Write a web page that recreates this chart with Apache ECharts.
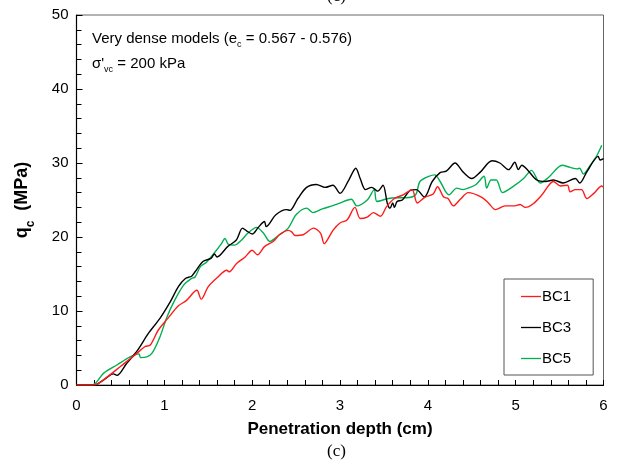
<!DOCTYPE html>
<html>
<head>
<meta charset="utf-8">
<script src="https://cdn.jsdelivr.net/npm/echarts@6/dist/echarts.min.js"></script>
<style>html,body{margin:0;padding:0;background:#fff;}#c{width:620px;height:475px;}</style>
</head>
<body>
<div id="c"></div>
<script>
// Data (depth in cm, qc in MPa)
var seriesNames = ['BC1', 'BC3', 'BC5'];
var seriesColors = ['#ff1a1a', '#000000', '#00b050'];
var xTicks = [0, 1, 2, 3, 4, 5, 6];
var yTicks = [0, 10, 20, 30, 40, 50];

var bc1 = [[0,0],[0.2,0],[0.35,1.1],[0.5,2.5],[0.67,4.1],[0.78,5.2],[0.84,5.4],[0.93,7.4],[1.04,9.0],[1.16,10.7],[1.25,11.4],[1.37,12.8],[1.42,11.6],[1.5,13.3],[1.61,14.6],[1.71,15.5],[1.74,15.3],[1.82,16.4],[1.92,17.3],[2.0,18.2],[2.06,17.6],[2.14,18.7],[2.24,19.4],[2.31,20.3],[2.41,20.9],[2.45,20.7],[2.49,20.2],[2.58,20.3],[2.7,21.2],[2.78,20.5],[2.82,19.1],[2.92,20.9],[3.0,21.9],[3.08,22.3],[3.17,24.0],[3.23,22.5],[3.31,22.7],[3.38,23.3],[3.46,22.8],[3.53,24.1],[3.62,25.2],[3.72,25.7],[3.82,26.4],[3.88,24.6],[3.97,25.4],[4.06,25.8],[4.11,26.8],[4.18,25.4],[4.23,25.2],[4.29,24.2],[4.37,25.1],[4.46,26.0],[4.61,25.4],[4.69,24.6],[4.77,23.7],[4.88,24.2],[4.99,24.2],[5.05,24.4],[5.11,24.0],[5.2,24.5],[5.3,25.7],[5.43,27.5],[5.51,26.9],[5.59,27.0],[5.62,26.1],[5.68,26.4],[5.75,26.4],[5.81,25.2],[5.89,25.9],[5.98,26.9],[6.0,26.7]];

var bc3 = [[0,0],[0.2,0],[0.31,0.7],[0.42,1.5],[0.46,1.3],[0.57,2.9],[0.69,4.6],[0.82,7.0],[0.95,9.0],[1.07,11.3],[1.16,13.3],[1.24,14.4],[1.31,14.7],[1.35,15.3],[1.44,16.7],[1.53,17.1],[1.57,17.7],[1.6,17.3],[1.72,18.7],[1.82,19.6],[1.89,21.2],[1.94,20.8],[2.0,20.4],[2.07,21.3],[2.14,22.1],[2.16,21.4],[2.27,23.0],[2.39,23.7],[2.43,23.6],[2.52,25.2],[2.62,26.7],[2.73,27.1],[2.83,26.7],[2.92,27.0],[3.0,25.9],[3.1,27.7],[3.18,29.3],[3.23,27.9],[3.29,26.4],[3.36,26.7],[3.43,26.2],[3.49,27.0],[3.54,24.5],[3.57,23.9],[3.6,24.6],[3.62,24.0],[3.65,24.8],[3.71,25.0],[3.8,26.3],[3.87,26.4],[3.96,25.4],[4.05,27.5],[4.14,28.7],[4.21,28.9],[4.31,30.0],[4.4,28.8],[4.5,27.9],[4.6,28.8],[4.73,30.3],[4.82,30.0],[4.92,29.1],[4.99,30.1],[5.03,29.1],[5.07,29.7],[5.14,29.0],[5.24,27.7],[5.34,27.5],[5.43,27.7],[5.54,27.3],[5.68,27.9],[5.73,27.3],[5.81,28.8],[5.94,30.9],[5.96,30.4],[6.0,30.6]];

var bc5 = [[0,0],[0.18,0],[0.31,1.6],[0.46,2.7],[0.61,3.8],[0.71,4.2],[0.73,3.7],[0.8,3.8],[0.86,4.3],[0.95,6.5],[1.03,9.2],[1.12,11.5],[1.22,13.5],[1.31,14.4],[1.35,14.6],[1.41,16.0],[1.48,16.6],[1.58,18.0],[1.65,19.1],[1.69,19.8],[1.73,19.0],[1.8,18.9],[1.88,19.6],[1.95,20.5],[2.05,21.3],[2.13,20.5],[2.2,19.4],[2.31,20.3],[2.41,21.2],[2.5,23.0],[2.62,23.9],[2.69,23.3],[2.8,23.8],[2.91,24.2],[2.98,24.5],[3.13,25.1],[3.19,24.2],[3.31,25.0],[3.39,26.4],[3.42,24.8],[3.55,25.2],[3.64,25.3],[3.75,25.3],[3.86,25.7],[3.91,27.5],[4.01,28.2],[4.08,28.4],[4.14,27.5],[4.24,25.7],[4.33,26.6],[4.4,26.4],[4.48,26.7],[4.55,27.1],[4.64,28.2],[4.67,26.6],[4.72,27.7],[4.78,27.7],[4.85,26.0],[4.98,26.9],[5.09,27.9],[5.18,29.0],[5.28,27.3],[5.37,28.0],[5.53,29.7],[5.62,29.4],[5.7,29.2],[5.73,29.3],[5.77,28.5],[5.85,29.7],[5.92,30.9],[5.98,32.4]];

var seriesData = [bc1, bc3, bc5];

var chart = echarts.init(document.getElementById('c'), null, {renderer: 'canvas'});
var FONT = 'Liberation Sans, Arial, sans-serif';

var series = seriesNames.map(function (n, i) {
  return {
    name: n, type: 'line', data: seriesData[i], symbol: 'none', showSymbol: false,
    smooth: 0.3, lineStyle: {color: seriesColors[i], width: 1.4}, itemStyle: {color: seriesColors[i]},
    z: 3 - i
  };
});

var subRich = {
  n: {fontFamily: FONT, fontSize: 15, fill: '#000', verticalAlign: 'top'},
  s: {fontFamily: FONT, fontSize: 9, fill: '#000', padding: [9, 0, 0, 0], verticalAlign: 'bottom'}
};

chart.setOption({
  animation: false,
  backgroundColor: '#fff',
  grid: {left: 76.5, right: 16.5, top: 15, bottom: 90, show: true, borderColor: '#666', borderWidth: 1},
  xAxis: {
    type: 'value', min: xTicks[0], max: xTicks[xTicks.length - 1], interval: 1,
    axisLine: {show: true, onZero: false, lineStyle: {color: '#000', width: 1.2}},
    axisTick: {show: true, inside: true, length: 5, lineStyle: {color: '#000'}},
    minorTick: {show: true, splitNumber: 5, length: 5, lineStyle: {color: '#000'}},
    splitLine: {show: false},
    axisLabel: {color: '#000', fontFamily: FONT, fontSize: 15, margin: 13},
    name: 'Penetration depth (cm)', nameLocation: 'middle', nameGap: 36,
    nameTextStyle: {color: '#000', fontFamily: FONT, fontSize: 17, fontWeight: 'bold'}
  },
  yAxis: {
    type: 'value', min: yTicks[0], max: yTicks[yTicks.length - 1], interval: 10,
    axisLine: {show: true, onZero: false, lineStyle: {color: '#000', width: 1.2}},
    axisTick: {show: true, inside: true, length: 6, lineStyle: {color: '#000'}},
    minorTick: {show: true, splitNumber: 5, length: 5, lineStyle: {color: '#000'}},
    splitLine: {show: false},
    axisLabel: {color: '#000', fontFamily: FONT, fontSize: 15, margin: 8},
    name: '{a|q}{b|c}{a|  (MPa)}', nameLocation: 'middle', nameGap: 40,
    nameTextStyle: {
      color: '#000', fontFamily: FONT, fontSize: 18, fontWeight: 'bold',
      rich: {
        a: {fontFamily: FONT, fontSize: 18, fontWeight: 'bold', color: '#000', verticalAlign: 'top'},
        b: {fontFamily: FONT, fontSize: 12, fontWeight: 'bold', color: '#000', padding: [11, 0, 0, 0], verticalAlign: 'bottom'}
      }
    }
  },
  legend: {
    data: seriesNames, orient: 'vertical', left: 504, top: 279,
    width: 92, padding: [10, 22, 9, 17], itemGap: 16, itemWidth: 20, itemHeight: 14,
    borderColor: '#555', borderWidth: 1, backgroundColor: '#fff',
    textStyle: {color: '#000', fontFamily: FONT, fontSize: 15, padding: [0, 0, 0, -4]},
    icon: 'path://M0,7 L20,7 L20,8.3 L0,8.3 Z'
  },
  graphic: [
    {type: 'text', left: 92, top: 31, style: {
      text: '{n|Very dense models (e}{s|c}{n| = 0.567 - 0.576)}', fill: '#000', rich: subRich
    }},
    {type: 'text', left: 92, top: 56, style: {
      text: "{n|σ'}{s|vc}{n| = 200 kPa}", fill: '#000', rich: subRich
    }},
    {type: 'text', left: 327, top: 443, style: {text: '(c)', fill: '#000', font: '17px "Liberation Serif", "Times New Roman", serif'}},
    {type: 'text', left: 327, top: -12, style: {text: '(c)', fill: '#000', font: '17px "Liberation Serif", "Times New Roman", serif'}}
  ],
  series: series
});
</script>
</body>
</html>
